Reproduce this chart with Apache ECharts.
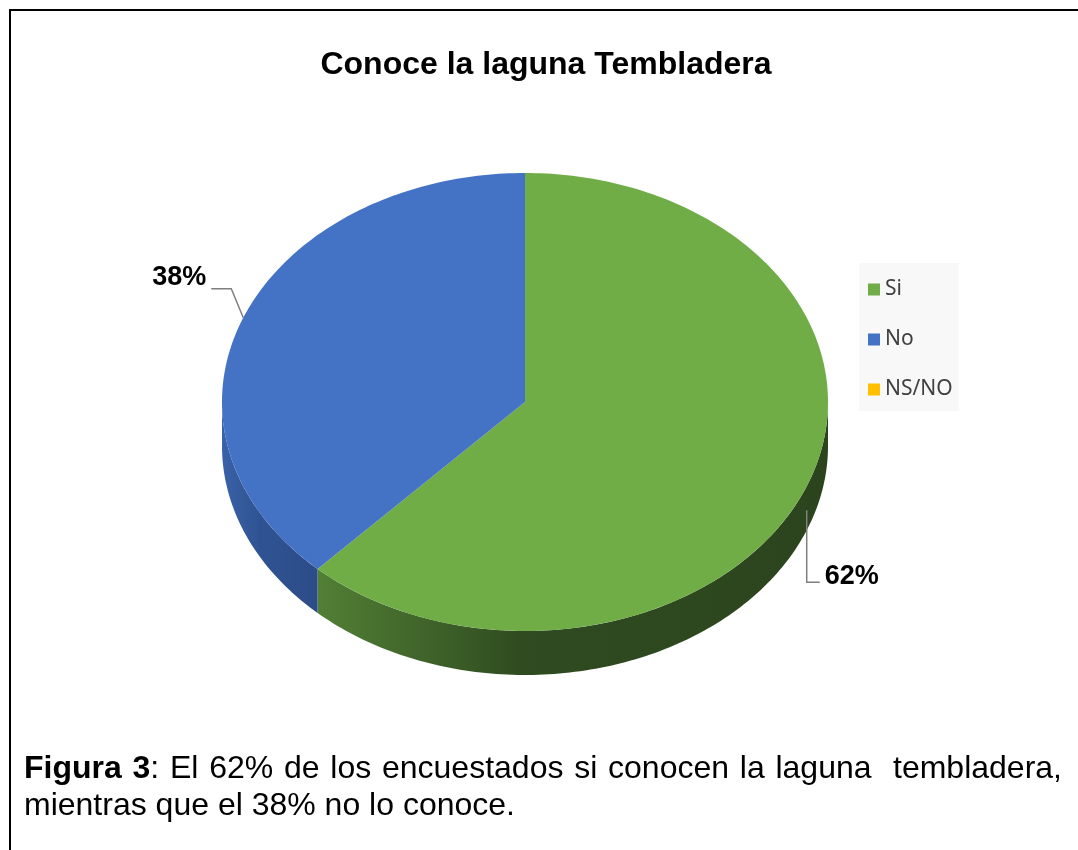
<!DOCTYPE html>
<html>
<head>
<meta charset="utf-8">
<script src="https://cdn.jsdelivr.net/npm/echarts@6/dist/echarts.min.js"></script>
<style>
  html, body { margin: 0; padding: 0; background: #fff; }
  #pie3d { width: 1078px; height: 850px; }
</style>
</head>
<body>
<div id="pie3d"></div>
<script>
// datos de la encuesta
var categorias = ['Si', 'No', 'NS/NO']
var valores = [62, 38, 0]
var colores = ['#70AD47', '#4472C4', '#FFC000']
// caras laterales (más oscuras)
var coloresLado = [
  ['#527F35', '#2F4B20', '#2C441E'],
  ['#3A62A8', '#2F5392', '#2C4C88'],
  ['#BF9000', '#A07800', '#8F6B00']
]
var tituloTexto = 'Conoce la laguna Tembladera'
var notaNegrita = 'Figura 3'
var notaLinea1 = ': El 62% de los encuestados si conocen la laguna  tembladera,'
var notaLinea2 = 'mientras que el 38% no lo conoce.'

var chart = echarts.init(document.getElementById('pie3d'))

// geometria de la elipse
var cx = 525
var cy = 402
var rx = 303
var ry = 229
var depth = 44
var total = valores.reduce(function (a, b) { return a + b }, 0)
var fuente = '"Liberation Sans", Arial, sans-serif'
var tamNota = 32

function punto (t, dy) {
  return [cx + rx * Math.sin(t), cy - ry * Math.cos(t) + (dy || 0)]
}

function arco (a, b, dy) {
  var pts = []
  var n = Math.max(2, Math.ceil((b - a) / (Math.PI / 180)))
  for (var k = 0; k <= n; k++) {
    pts.push(punto(a + (b - a) * k / n, dy))
  }
  return pts
}

function renderSlice (params, api) {
  var i = params.seriesIndex
  var v = api.value(0)
  if (!v) return
  var antes = 0
  for (var j = 0; j < i; j++) antes += valores[j]
  var t0 = antes / total * Math.PI * 2
  var t1 = (antes + v) / total * Math.PI * 2
  var children = []

  // lado frontal visible
  var a = Math.max(t0, Math.PI / 2)
  var b = Math.min(t1, Math.PI * 1.5)
  if (b > a) {
    var sup = arco(a, b, 0)
    var inf = arco(a, b, depth).reverse()
    var cs = coloresLado[i]
    children.push({
      type: 'polygon',
      shape: { points: sup.concat(inf) },
      style: {
        fill: {
          type: 'linear', x: 0, y: 0, x2: 1, y2: 0,
          colorStops: [
            { offset: 0, color: cs[0] },
            { offset: 0.4, color: cs[1] },
            { offset: 1, color: cs[2] }
          ]
        }
      }
    })
  }

  // cara superior
  children.push({
    type: 'polygon',
    z2: 5,
    shape: { points: [[cx, cy]].concat(arco(t0, t1, 0)) },
    style: { fill: colores[i] }
  })

  // etiqueta con linea guia
  var m = (t0 + t1) / 2
  var p = punto(m, 0)
  var pct = Math.round(v / total * 100) + '%'
  var lineStyle = { stroke: '#7F7F7F', lineWidth: 1.5, fill: null }
  var labelFont = 'bold 27px ' + fuente
  if (Math.sin(m) > 0) {
    children.push({
      type: 'polyline',
      z2: 6,
      shape: { points: [[p[0], p[1] + 24], [p[0], p[1] + 96], [p[0] + 13, p[1] + 96]] },
      style: lineStyle
    })
    children.push({
      type: 'text',
      z2: 6,
      x: p[0] + 18,
      y: p[1] + 90,
      style: { text: pct, fill: '#000', font: labelFont, align: 'left', verticalAlign: 'middle' }
    })
  } else {
    children.push({
      type: 'polyline',
      z2: 6,
      shape: { points: [[p[0], p[1]], [p[0] - 12, p[1] - 29], [p[0] - 32, p[1] - 29]] },
      style: lineStyle
    })
    children.push({
      type: 'text',
      z2: 6,
      x: p[0] - 37,
      y: p[1] - 40,
      style: { text: pct, fill: '#000', font: labelFont, align: 'right', verticalAlign: 'middle' }
    })
  }
  return { type: 'group', children: children }
}

var series = categorias.map(function (c, i) {
  return {
    name: c,
    type: 'custom',
    coordinateSystem: 'none',
    itemStyle: { color: colores[i] },
    data: [[valores[i]]],
    renderItem: renderSlice
  }
})

// texto justificado de la primera linea
var ctx = document.createElement('canvas').getContext('2d')
ctx.font = 'bold ' + tamNota + 'px ' + fuente
var anchoNegrita = ctx.measureText(notaNegrita).width
ctx.font = tamNota + 'px ' + fuente
var anchoResto = ctx.measureText(notaLinea1).width
var anchoEspacio = ctx.measureText(' ').width
var nEspacios = (notaNegrita + notaLinea1).split(' ').length - 1
var extra = Math.max(0, (1062 - 24 - anchoNegrita - anchoResto) / nEspacios)
var esc = function (s) { return s.replace(/ /g, '{g| }') }
var linea1Rich = '{b|' + esc(notaNegrita).replace(/\{g\| \}/g, '}{bg| }{b|') + '}' + esc(notaLinea1)

var options = {
  animation: false,
  title: {
    text: tituloTexto,
    left: 541,
    top: 44,
    textAlign: 'center',
    textStyle: {
      fontFamily: fuente,
      fontWeight: 'bold',
      fontSize: 32,
      color: '#000'
    }
  },
  legend: {
    orient: 'vertical',
    left: 859,
    top: 263,
    data: categorias,
    icon: 'rect',
    itemWidth: 12,
    itemHeight: 12,
    itemGap: 29,
    padding: [16, 6, 11, 9],
    backgroundColor: '#F8F8F8',
    textStyle: {
      fontFamily: '"Noto Sans", sans-serif',
      fontSize: 21,
      color: '#404040'
    }
  },
  graphic: [
    {
      type: 'polyline',
      shape: { points: [[10, 850], [10, 10], [1078, 10]] },
      style: { stroke: '#000', lineWidth: 2, fill: null }
    },
    {
      type: 'text',
      x: 24,
      y: 769,
      style: {
        text: linea1Rich,
        font: tamNota + 'px ' + fuente,
        fill: '#000',
        verticalAlign: 'middle',
        rich: {
          b: { fontWeight: 'bold', fontSize: tamNota, fontFamily: fuente },
          bg: { fontWeight: 'bold', fontSize: tamNota, fontFamily: fuente, width: anchoEspacio + extra },
          g: { fontSize: tamNota, fontFamily: fuente, width: anchoEspacio + extra }
        }
      }
    },
    {
      type: 'text',
      x: 24,
      y: 806,
      style: {
        text: notaLinea2,
        font: tamNota + 'px ' + fuente,
        fill: '#000',
        verticalAlign: 'middle'
      }
    }
  ],
  series: series
}

chart.clear()
chart.setOption(options)
window.addEventListener('resize', function () {
  chart.resize()
})
</script>
</body>
</html>
